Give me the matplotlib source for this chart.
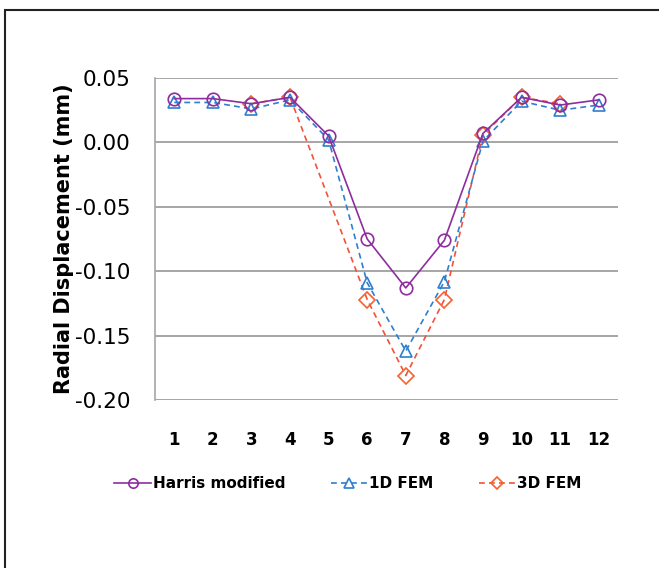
import numpy as np
import matplotlib
matplotlib.use("Agg")
import matplotlib.pyplot as plt
from matplotlib.patches import Rectangle

# data
sections = [1, 2, 3, 4, 5, 6, 7, 8, 9, 10, 11, 12]
harris = [0.034, 0.034, 0.030, 0.035, 0.005, -0.075, -0.113, -0.076, 0.007, 0.035, 0.029, 0.033]
fem_1d = [0.031, 0.031, 0.026, 0.033, 0.002, -0.109, -0.162, -0.108, 0.001, 0.032, 0.025, 0.029]
fem_3d = [np.nan, np.nan, 0.030, 0.035, np.nan, -0.122, -0.181, -0.122, 0.006, 0.035, 0.030, np.nan]
yticks = [0.05, 0.00, -0.05, -0.10, -0.15, -0.20]

plt.rcParams['axes.unicode_minus'] = False
plt.rcParams['font.family'] = ['DejaVu Sans']

fig = plt.figure(figsize=(6.59, 5.68), dpi=100)
ax = fig.add_axes([155 / 659, 1 - 400 / 568, 463 / 659, 322 / 568])

x = np.array(sections)

# 3D FEM - gaps are bridged by the line like Excel does
y3 = np.array(fem_3d)
ok = ~np.isnan(y3)
ax.plot(x[ok], y3[ok], linestyle=(0, (3.5, 2.5)), color='#f4503a', linewidth=1.2,
        marker='D', markersize=8, markerfacecolor='none', markeredgecolor='#f4622e',
        markeredgewidth=1.2, label='3D FEM', zorder=3)
ax.plot(x, fem_1d, linestyle=(0, (3.5, 2.5)), color='#2e7fcf', linewidth=1.2,
        marker='^', markersize=9, markerfacecolor='none', markeredgecolor='#2e7fcf',
        markeredgewidth=1.2, label='1D FEM', zorder=4)
ax.plot(x, harris, linestyle='-', color='#8e2d9e', linewidth=1.2,
        marker='o', markersize=9, markerfacecolor='none', markeredgecolor='#8e2d9e',
        markeredgewidth=1.2, label='Harris modified', zorder=5)

ax.set_xlim(0.5, 12.5)
ax.set_ylim(-0.20, 0.05)
ax.set_yticks(yticks)
ax.set_yticklabels(['%.2f' % v for v in yticks], fontsize=15.5)
ax.set_xticks(sections)
ax.set_xticklabels([str(s) for s in sections], fontsize=12, fontweight='bold')
ax.tick_params(axis='y', length=0, pad=18)
ax.tick_params(axis='x', length=0, pad=22)

ax.grid(axis='y', color='#a6a6a6', linewidth=1.4)
ax.set_axisbelow(True)
for s in ['top', 'right', 'bottom']:
    ax.spines[s].set_visible(False)
ax.spines['left'].set_color('#a6a6a6')
ax.spines['left'].set_linewidth(1.2)

ax.set_ylabel('Radial Displacement (mm)', fontsize=15, fontweight='bold')
ax.yaxis.set_label_coords((74 - 155) / 463, 0.5)

# legend below the plot
h, l = ax.get_legend_handles_labels()
order = [2, 1, 0]
fig.legend([h[i] for i in order], [l[i] for i in order], loc='center',
           bbox_to_anchor=(348 / 659, 1 - 484 / 568), ncol=3, frameon=False,
           prop={'weight': 'bold', 'size': 11}, handlelength=2.4, markerscale=0.75,
           handletextpad=0.1, columnspacing=3.0)

# outer frame of the chart area, cut off at right and bottom
fig.patches.append(Rectangle((5 / 659, -0.1), 1.2, 1 - 10 / 568 + 0.1,
                             transform=fig.transFigure, fill=False,
                             edgecolor='#222222', linewidth=1.5))

fig.savefig('out.png', dpi=100)
